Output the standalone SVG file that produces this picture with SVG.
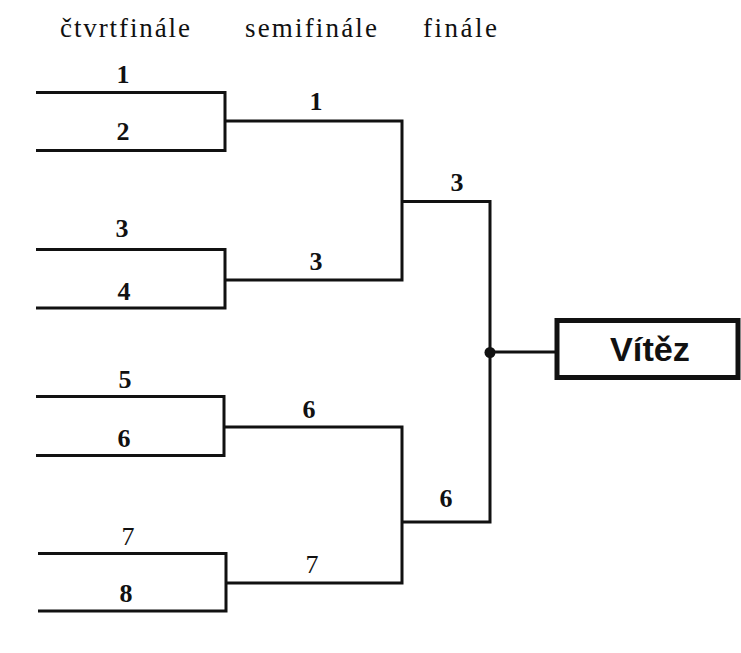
<svg xmlns="http://www.w3.org/2000/svg" width="741" height="653" viewBox="0 0 741 653">
<style>
.hdr{font-family:"Liberation Serif","Times New Roman",serif;font-size:27px;fill:#111}
.num{font-family:"Liberation Serif","Times New Roman",serif;font-size:26px;font-weight:bold;fill:#111;text-anchor:middle}
.reg{font-weight:normal}
.ln{fill:none;stroke:#111;stroke-width:3;stroke-linejoin:miter;stroke-linecap:butt}
.win{font-family:"Liberation Sans",Arial,sans-serif;font-size:34px;font-weight:bold;fill:#111}
</style>
<rect width="741" height="653" fill="#fff"/>
<g id="headers">
<text class="hdr" x="60" y="37" textLength="130" lengthAdjust="spacing">čtvrtfinále</text>
<text class="hdr" x="245" y="37" textLength="132" lengthAdjust="spacing">semifinále</text>
<text class="hdr" x="423" y="37" textLength="74" lengthAdjust="spacing">finále</text>
</g>
<g id="connectors">
<path class="ln" d="M36 92.5 H225 V150.5 H36"/>
<path class="ln" d="M36 249.5 H225 V308 H36"/>
<path class="ln" d="M36 396.5 H224 V455.5 H36"/>
<path class="ln" d="M38 553.5 H226 V611 H38"/>
<path class="ln" d="M225 121 H402 V280 H225"/>
<path class="ln" d="M224 427 H402 V583 H226"/>
<path class="ln" d="M402 201.5 H490 V522 H402"/>
<path class="ln" d="M490 352 H557"/>
<circle cx="490" cy="352.5" r="5.5" fill="#111"/>
</g>
<g id="qf1"><text class="num" x="123" y="83">1</text></g>
<g id="qf2"><text class="num" x="123" y="140">2</text></g>
<g id="qf3"><text class="num" x="122" y="237">3</text></g>
<g id="qf4"><text class="num" x="124" y="300">4</text></g>
<g id="qf5"><text class="num" x="125" y="388">5</text></g>
<g id="qf6"><text class="num" x="124" y="447">6</text></g>
<g id="qf7"><text class="num reg" x="128" y="545">7</text></g>
<g id="qf8"><text class="num" x="126" y="602">8</text></g>
<g id="sf1"><text class="num" x="316" y="110">1</text></g>
<g id="sf3"><text class="num" x="316" y="270">3</text></g>
<g id="sf6"><text class="num" x="309" y="418">6</text></g>
<g id="sf7"><text class="num reg" x="312" y="573">7</text></g>
<g id="f3"><text class="num" x="457" y="191">3</text></g>
<g id="f6"><text class="num" x="446" y="507">6</text></g>
<g id="winner">
<rect x="557" y="320.5" width="181" height="57" fill="#fff" stroke="#111" stroke-width="5"/>
<text class="win" x="610" y="361" textLength="80" lengthAdjust="spacingAndGlyphs">Vítěz</text>
</g>
</svg>
